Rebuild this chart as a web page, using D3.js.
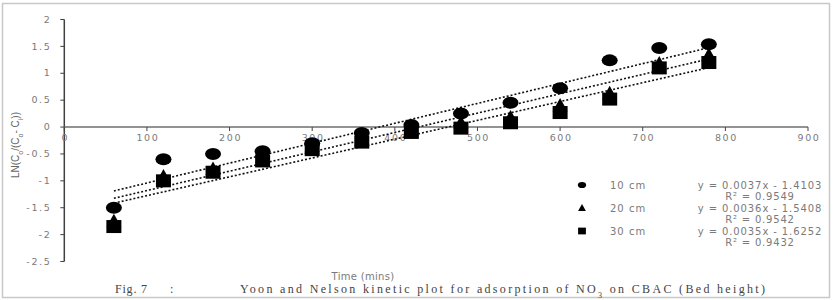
<!DOCTYPE html>
<html><head><meta charset="utf-8">
<script src="https://cdn.jsdelivr.net/npm/d3@7"></script>
<style>body{margin:0;background:#fff}svg{display:block}</style>
</head><body>
<svg id="c" width="836" height="300"></svg>
<script>
const times = [60,120,180,240,300,360,420,480,540,600,660,720,780];
const s10 = [-1.50,-0.60,-0.50,-0.45,-0.30,-0.11,0.04,0.25,0.45,0.72,1.24,1.47,1.54];
const s20 = [-1.75,-0.92,-0.78,-0.55,-0.35,-0.24,-0.05,0.08,0.18,0.40,0.63,1.18,1.34];
const s30 = [-1.85,-1.00,-0.84,-0.63,-0.42,-0.28,-0.10,-0.02,0.08,0.27,0.52,1.10,1.20];
const seriesNames = ["10 cm","20 cm","30 cm"];
const slopes = [0.0037,0.0036,0.0035];
const intercepts = [-1.4103,-1.5408,-1.6252];
const eqLabels = ["y = 0.0037x - 1.4103","y = 0.0036x - 1.5408","y = 0.0035x - 1.6252"];
const r2Labels = ["R² = 0.9549","R² = 0.9542","R² = 0.9432"];
const xTicks = [0,100,200,300,400,500,600,700,800,900];
const yTicks = [2,1.5,1,0.5,0,-0.5,-1,-1.5,-2,-2.5];

const svg = d3.select("#c");
const x = d3.scaleLinear().domain([0,900]).range([64.3,808]);
const y = d3.scaleLinear().domain([-2.5,2]).range([261.5,19.5]);
const axc = "#6e6e6e", txt = "#7a7a7a";
const sans = "'DejaVu Sans', Verdana, sans-serif";

// outer border
svg.append("rect").attr("x",2.5).attr("y",3.5).attr("width",827).attr("height",294)
  .attr("fill","none").attr("stroke","#c8c8c8").attr("stroke-width",1.5);

// y axis
const yg = svg.append("g");
yg.append("line").attr("x1",x(0)).attr("x2",x(0)).attr("y1",y(2)).attr("y2",y(-2.5))
  .attr("stroke","#404040").attr("stroke-width",1.5);
yTicks.forEach(d=>{
  yg.append("line").attr("x1",x(0)-4).attr("x2",x(0)).attr("y1",y(d)).attr("y2",y(d)).attr("stroke","#404040");
  yg.append("text").attr("x",x(0)-13).attr("y",y(d)+3.2).attr("text-anchor","end")
    .attr("fill",txt).attr("font-family",sans).attr("font-size",9.5).attr("letter-spacing",1.6)
    .text(String(d));
});

// x axis at y=0
const xg = svg.append("g");
xg.append("line").attr("x1",x(0)).attr("x2",x(900)).attr("y1",y(0)).attr("y2",y(0))
  .attr("stroke",axc).attr("stroke-width",1.5);
xTicks.forEach(d=>{
  xg.append("line").attr("x1",x(d)).attr("x2",x(d)).attr("y1",y(0)).attr("y2",y(0)+4).attr("stroke","#404040");
  xg.append("text").attr("x",x(d)+1).attr("y",y(0)+14).attr("text-anchor","middle")
    .attr("fill",txt).attr("font-family",sans).attr("font-size",9.5).attr("letter-spacing",1.6)
    .text(String(d));
});

// trendlines
slopes.forEach((m,i)=>{
  const x0 = d3.min(times), x1 = d3.max(times);
  svg.append("line").attr("x1",x(x0)).attr("y1",y(m*x0+intercepts[i]))
    .attr("x2",x(x1)).attr("y2",y(m*x1+intercepts[i]))
    .attr("stroke","#111").attr("stroke-width",1.6).attr("stroke-dasharray","2,2");
});

// markers
function marker(g, type, cx, cy, s){
  if(type===0) g.append("ellipse").attr("cx",cx).attr("cy",cy).attr("rx",8*s).attr("ry",6*s);
  else if(type===1) g.append("path").attr("d",`M${cx},${cy-7.5*s}L${cx+7.5*s},${cy+6*s}L${cx-7.5*s},${cy+6*s}Z`);
  else g.append("rect").attr("x",cx-7.5*s).attr("y",cy-6.5*s).attr("width",15*s).attr("height",13*s);
}
const allSeries = [s10,s20,s30];
const mg = svg.append("g").attr("fill","#000");
[2,1,0].forEach(i=>{
  allSeries[i].forEach((v,j)=>marker(mg,i,x(times[j]),y(v),1));
});

// legend
const lg = svg.append("g").attr("font-family",sans).attr("font-size",10).attr("fill",txt);
const legY = [185,208,231];
seriesNames.forEach((n,i)=>{
  const g = svg.append("g").attr("fill","#000");
  marker(g,i,582,legY[i],0.52);
  lg.append("text").attr("x",610).attr("y",legY[i]+3.5).attr("letter-spacing",1).text(n);
  lg.append("text").attr("x",760).attr("y",legY[i]+3.5).attr("text-anchor","middle")
    .attr("letter-spacing",0.9).text(eqLabels[i]);
  lg.append("text").attr("x",760).attr("y",legY[i]+15).attr("text-anchor","middle")
    .attr("letter-spacing",0.8).text(r2Labels[i]);
});

// y label
const yl = svg.append("text").attr("transform","translate(19,145) rotate(-90)")
  .attr("text-anchor","middle").attr("font-family","'Liberation Sans Narrow','Liberation Sans',sans-serif")
  .attr("font-size",10).attr("fill","#666");
yl.append("tspan").text("LN(C");
yl.append("tspan").attr("baseline-shift","sub").attr("font-size",7).text("o");
yl.append("tspan").text("/(C");
yl.append("tspan").attr("baseline-shift","sub").attr("font-size",7).text("o");
yl.append("tspan").text("- C");
yl.append("tspan").attr("baseline-shift","sub").attr("font-size",7).text("i");
yl.append("tspan").text("))");

// x label
svg.append("text").attr("x",363).attr("y",280).attr("text-anchor","middle")
  .attr("font-family",sans).attr("font-size",10).attr("letter-spacing",0.3).attr("fill",txt).text("Time (mins)");

// caption
const serif = "'Liberation Serif','Times New Roman',serif";
svg.append("text").attr("x",115).attr("y",293).attr("font-family",serif).attr("font-size",12)
  .attr("fill","#444").attr("letter-spacing",0.8).text("Fig. 7");
svg.append("text").attr("x",170).attr("y",293).attr("font-family",serif).attr("font-size",12)
  .attr("fill","#444").text(":");
const cap = svg.append("text").attr("x",240).attr("y",293).attr("font-family",serif).attr("font-size",12)
  .attr("fill","#444").attr("textLength",525).attr("lengthAdjust","spacing");
cap.append("tspan").text("Yoon and Nelson kinetic plot for adsorption of NO");
cap.append("tspan").attr("baseline-shift","sub").attr("font-size",8).text("3");
cap.append("tspan").text(" on CBAC  (Bed height)");
</script>
</body></html>
